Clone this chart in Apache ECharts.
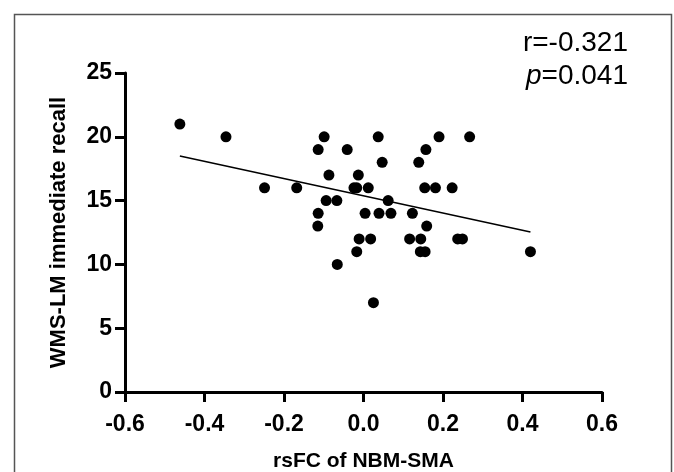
<!DOCTYPE html>
<html>
<head>
<meta charset="utf-8">
<script src="https://cdn.jsdelivr.net/npm/echarts@6/dist/echarts.min.js"></script>
<style>
html,body{margin:0;padding:0;background:#fff;}
#chart{width:674px;height:472px;}
</style>
</head>
<body>
<div id="chart"></div>
<script>
// rsFC of NBM-SMA (x) and WMS-LM immediate recall (y)
const xVals = [-0.462, -0.346, -0.249, -0.168, -0.099, -0.114, -0.041, 0.037, 0.190, 0.267,
  0.157, 0.047, 0.139, -0.087, -0.013, -0.024, -0.017, 0.012, 0.154, 0.181,
  0.223, -0.094, -0.067, 0.062, -0.114, 0.004, 0.039, 0.069, 0.123, -0.115,
  0.159, -0.011, 0.018, 0.116, 0.144, 0.237, 0.249, -0.017, 0.143, 0.155,
  0.420, -0.066, 0.025];
const yVals = [21, 20, 16, 16, 20, 19, 19, 20, 20, 20,
  19, 18, 18, 17, 17, 16, 16, 16, 16, 16,
  16, 15, 15, 15, 14, 14, 14, 14, 14, 13,
  13, 12, 12, 12, 12, 12, 12, 11, 11, 11,
  11, 10, 7];
// regression line end points
const fitX = [-0.462, 0.420];
const fitY = [18.5, 12.54];
const xTicks = [-0.6, -0.4, -0.2, 0.0, 0.2, 0.4, 0.6];
const yTicks = [0, 5, 10, 15, 20, 25];
const statR = 'r=-0.321';
const statP = '0.041';

const points = xVals.map((x, i) => [x, yVals[i]]);
const fitLine = fitX.map((x, i) => [x, fitY[i]]);

const chart = echarts.init(document.getElementById('chart'), null, {renderer: 'canvas'});
const FONT = 'Liberation Sans, Arial, Helvetica, sans-serif';
chart.setOption({
  animation: false,
  backgroundColor: '#fff',
  grid: {left: 125, right: 72, top: 73, bottom: 80, containLabel: false, outerBoundsMode: 'none'},
  xAxis: {
    type: 'value', min: -0.6, max: 0.6, interval: 0.2,
    name: 'rsFC of NBM-SMA', nameLocation: 'middle', nameGap: 59,
    nameTextStyle: {fontFamily: FONT, fontWeight: 'bold', fontSize: 21, color: '#000'},
    axisLine: {show: true, onZero: false, lineStyle: {color: '#000', width: 3}},
    axisTick: {show: true, length: 10, lineStyle: {color: '#000', width: 3}},
    axisLabel: {fontFamily: FONT, fontWeight: 'bold', fontSize: 23, color: '#000', margin: 21,
      formatter: v => { const t = xTicks.find(k => Math.abs(k - v) < 1e-9); return (t === undefined ? v : t).toFixed(1); }},
    splitLine: {show: false}
  },
  yAxis: {
    type: 'value', min: 0, max: 25, interval: 5,
    name: 'WMS-LM immediate recall', nameLocation: 'middle', nameGap: 55, nameRotate: 90,
    nameTextStyle: {fontFamily: FONT, fontWeight: 'bold', fontSize: 22, color: '#000'},
    axisLine: {show: true, onZero: false, lineStyle: {color: '#000', width: 3}},
    axisTick: {show: true, length: 10, lineStyle: {color: '#000', width: 3}},
    axisLabel: {fontFamily: FONT, fontWeight: 'bold', fontSize: 23, color: '#000', margin: 13,
      formatter: v => String(yTicks.find(k => k === v) ?? v)},
    splitLine: {show: false}
  },
  series: [
    {type: 'scatter', data: points, symbol: 'circle', symbolSize: 11,
     itemStyle: {color: '#000', opacity: 1}, z: 3},
    {type: 'line', data: fitLine, symbol: 'none', lineStyle: {color: '#000', width: 1.5}, z: 2}
  ],
  graphic: [
    {type: 'rect', shape: {x: 14.5, y: 14.5, width: 657, height: 480},
     style: {fill: null, stroke: '#555', lineWidth: 1.5}, silent: true},
    {type: 'text', style: {text: statR, x: 628, y: 57, textAlign: 'right', textVerticalAlign: 'bottom',
      font: '28px Liberation Sans, Arial, sans-serif', fill: '#000'}},
    {type: 'text', style: {text: '{i|p}=' + statP, x: 628, y: 90, textAlign: 'right', textVerticalAlign: 'bottom',
      font: '28px Liberation Sans, Arial, sans-serif', fill: '#000',
      rich: {i: {fontStyle: 'italic', fontSize: 28, fontFamily: 'Liberation Sans, Arial, sans-serif'}}}}
  ]
});
</script>
</body>
</html>
